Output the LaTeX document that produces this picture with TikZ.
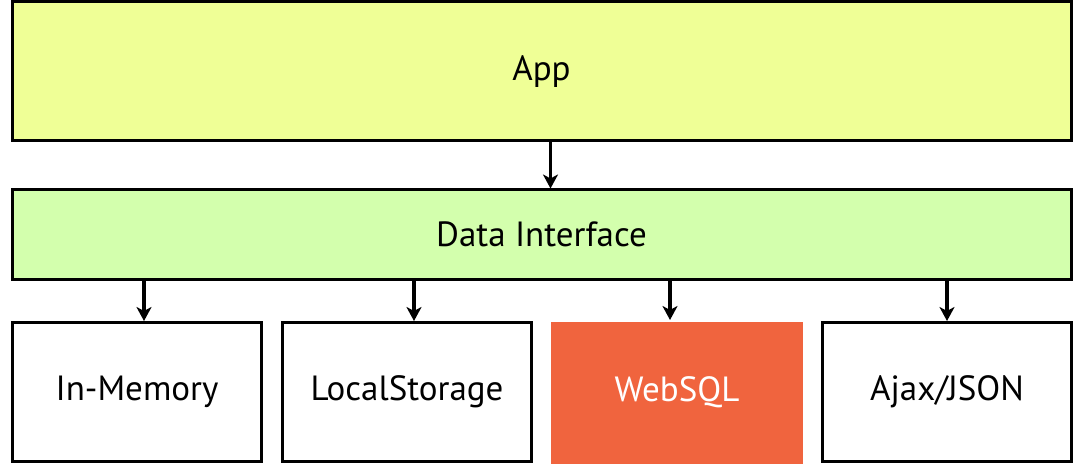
\documentclass[tikz,border=0pt]{standalone}
\usepackage{fontspec}
\setmainfont{PT Sans}
\usetikzlibrary{arrows.meta}
\definecolor{appyellow}{HTML}{EFFF96}
\definecolor{ifgreen}{HTML}{D3FFAD}
\definecolor{sqlred}{HTML}{F0643E}
\begin{document}
\begin{tikzpicture}[x=1pt,y=-1pt]
	
		\tikzset{
		  layer/.style={
			draw=black,
			line width=3pt,
			inner sep=0pt,
			minimum width=1059pt,
			font=\fontsize{35}{40}\selectfont,
		  },
		  store/.style={
			draw=black,
			line width=3pt,
			fill=white,
			inner sep=0pt,
			minimum width=249pt,
			minimum height=139pt,
			font=\fontsize{35}{40}\selectfont,
		  },
		  arr/.style={
			line width=3.5pt,
			-{Stealth[length=14pt,width=15pt,inset=4pt]},
		  },
		}
		\useasboundingbox (0,0) rectangle (1084,465);
		\node[layer,fill=appyellow,minimum height=139pt] (app) at (541.5,71.5) {App};
		\node[layer,fill=ifgreen,minimum height=89pt] (di) at (541.5,234.5) {Data Interface};
		\node[store] (mem) at (137,392) {In-Memory};
		\node[store] (local) at (407,392) {LocalStorage};
		\node[store,draw=none,fill=sqlred,text=white,minimum width=252pt,minimum height=142pt] (sql) at (677,392.5) {WebSQL};
		\node[store] (ajax) at (947,392) {Ajax/JSON};
		\draw[arr] ([xshift=9pt]app.south) -- ([xshift=9pt]app.south |- di.north);
		\draw[arr] ([xshift=7pt]mem.north |- di.south) -- ([xshift=7pt]mem.north);
		\draw[arr] ([xshift=7pt]local.north |- di.south) -- ([xshift=7pt]local.north);
		\draw[arr] ([xshift=-7pt]sql.north |- di.south) -- ([xshift=-7pt]sql.north);
		\draw[arr] (ajax.north |- di.south) -- (ajax.north);
	
	\end{tikzpicture}
\end{document}
